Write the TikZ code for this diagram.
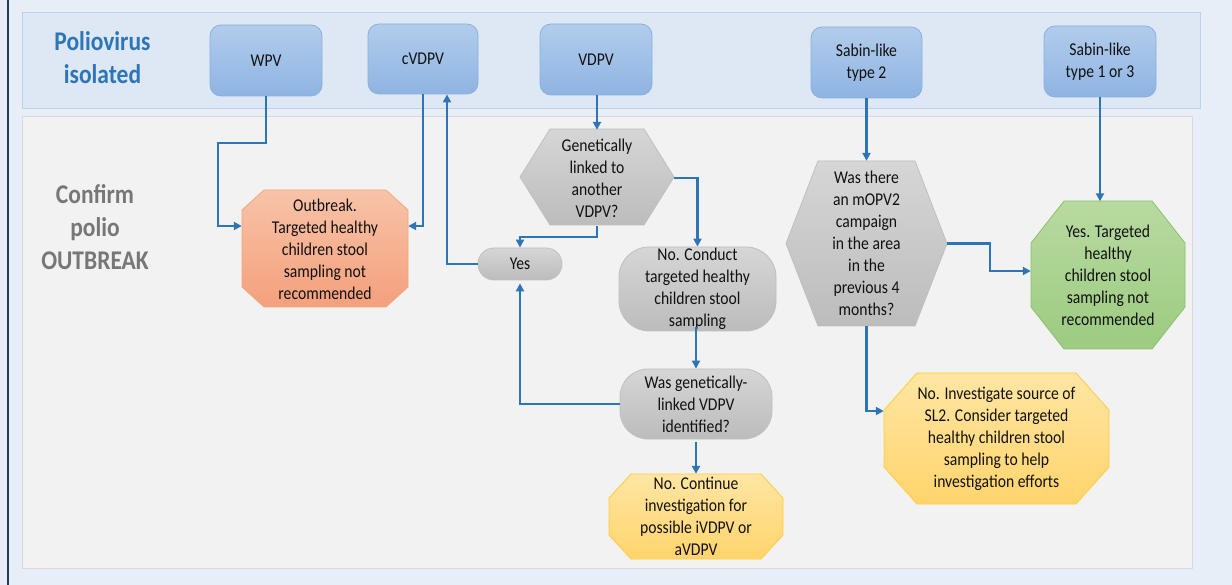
\documentclass[tikz,border=0pt]{standalone}
\usepackage{fontspec}
\setmainfont{Carlito}[FakeStretch=0.87]
\usetikzlibrary{arrows.meta}
\definecolor{bgblue}{HTML}{E7EEF8}
\definecolor{bandfill}{HTML}{DDE8F4}
\definecolor{bandline}{HTML}{BDD1EB}
\definecolor{panelfill}{HTML}{F2F2F2}
\definecolor{panelline}{HTML}{D9D9D9}
\definecolor{navy}{HTML}{1F3864}
\definecolor{connblue}{HTML}{2E75B6}
\definecolor{titleblue}{HTML}{2E75B6}
\definecolor{titlegray}{HTML}{777777}
\definecolor{blueTop}{HTML}{B2CCEB}
\definecolor{blueBot}{HTML}{8EB4E3}
\definecolor{blueLine}{HTML}{8AB0DE}
\definecolor{grayTop}{HTML}{D6D6D6}
\definecolor{grayBot}{HTML}{BCBCBC}
\definecolor{grayLine}{HTML}{BFBFBF}
\definecolor{orTop}{HTML}{F8C3A8}
\definecolor{orBot}{HTML}{F4A07C}
\definecolor{orLine}{HTML}{F4A57F}
\definecolor{grTop}{HTML}{B8DAA1}
\definecolor{grBot}{HTML}{9CCB80}
\definecolor{grLine}{HTML}{8DC16C}
\definecolor{yeTop}{HTML}{FFE6A3}
\definecolor{yeBot}{HTML}{FFD46C}
\definecolor{yeLine}{HTML}{FFCC40}
\definecolor{txtcol}{HTML}{111111}
\newcommand\myBody{\fontsize{18}{22}\selectfont}
\newcommand\myHead{\fontsize{27}{33}\selectfont\bfseries}
% #1 style, #2 cx, #3 cy, #4 half w, #5 half h, #6 cut x, #7 cut y
\newcommand\myOcta[7]{%
  \path[#1] (#2-#4+#6,#3-#5) -- (#2+#4-#6,#3-#5) -- (#2+#4,#3-#5+#7) -- (#2+#4,#3+#5-#7)
    -- (#2+#4-#6,#3+#5) -- (#2-#4+#6,#3+#5) -- (#2-#4,#3+#5-#7) -- (#2-#4,#3-#5+#7) -- cycle;}
% #1 style, #2 cx, #3 cy, #4 half w, #5 half h, #6 point depth
\newcommand\myHexa[6]{%
  \path[#1] (#2-#4+#6,#3-#5) -- (#2+#4-#6,#3-#5) -- (#2+#4,#3) -- (#2+#4-#6,#3+#5)
    -- (#2-#4+#6,#3+#5) -- (#2-#4,#3) -- cycle;}
\tikzset{
  conn/.style={draw=connblue, line width=2.1pt, -{Triangle[length=8pt,width=8pt]}},
  bluebox/.style={rounded corners=11pt, top color=blueTop, bottom color=blueBot, draw=blueLine,
    line width=0.8pt, inner sep=0pt, align=center, font=\myBody, text=txtcol},
  graybox/.style={top color=grayTop, bottom color=grayBot, draw=grayLine, line width=0.8pt,
    inner sep=0pt, align=center, font=\myBody, text=txtcol},
  grayfill/.style={top color=grayTop, bottom color=grayBot, draw=grayLine, line width=0.8pt},
  orfill/.style={top color=orTop, bottom color=orBot, draw=orLine, line width=0.8pt},
  grfill/.style={top color=grTop, bottom color=grBot, draw=grLine, line width=0.8pt},
  yefill/.style={top color=yeTop, bottom color=yeBot, draw=yeLine, line width=0.8pt},
  txt/.style={inner sep=0pt, align=center, font=\myBody, text=txtcol},
  headtxt/.style={inner sep=0pt, align=center, font=\myHead},
}
\begin{document}
\begin{tikzpicture}[x=1pt,y=-1pt]
\useasboundingbox (0,0) rectangle (1232,585);
\fill[bgblue] (0,0) rectangle (1232,585);
\draw[navy, line width=2.6pt] (7.8,0) -- (7.8,585);
% bands
\draw[fill=bandfill, draw=bandline, line width=0.8pt] (22,12) rectangle (1200,108);
\draw[fill=panelfill, draw=panelline, line width=1pt] (22.5,117) rectangle (1192,568);
% row titles
\node[headtxt, text=titleblue] (hdrA) at (102.5,57.5) {Poliovirus\\isolated};
\node[headtxt, text=titlegray] (hdrB) at (95,227) {Confirm\\polio\\OUTBREAK};
% top boxes
\node[bluebox, minimum width=112pt, minimum height=71pt] (wpv) at (266,60.5) {WPV};
\node[bluebox, minimum width=110pt, minimum height=70pt] (cvdpv) at (423,59) {cVDPV};
\node[bluebox, minimum width=112pt, minimum height=71pt] (vdpv) at (596,59.5) {VDPV};
\node[bluebox, minimum width=111pt, minimum height=71pt] (sab2) at (866.5,62.5) {Sabin-like\\type 2};
\node[bluebox, minimum width=112pt, minimum height=71pt] (sab13) at (1100,61.5) {Sabin-like\\type 1 or 3};
% outbreak octagon
\myOcta{orfill}{325}{248.5}{83}{58.5}{22}{20}
\node[txt, minimum width=166pt, minimum height=117pt] (outbreak) at (325,249.5)
  {Outbreak.\\Targeted healthy\\children stool\\sampling not\\recommended};
% genetically linked hexagon
\myHexa{grayfill}{597}{177}{77}{48}{30}
\node[txt, minimum width=154pt, minimum height=96pt] (genlink) at (597,178)
  {Genetically\\linked to\\another\\VDPV?};
% yes
\node[graybox, rounded corners=16pt, minimum width=84pt, minimum height=32pt] (yes) at (520,264) {Yes};
% conduct
\node[graybox, rounded corners=30pt, minimum width=157pt, minimum height=84pt] (conduct) at (697.5,289)
  {No. Conduct\\targeted healthy\\children stool\\sampling};
% was genetically linked
\node[graybox, rounded corners=28pt, minimum width=152pt, minimum height=70pt] (wasgen) at (696,404)
  {Was genetically-\\linked VDPV\\identified?};
% continue octagon
\myOcta{yefill}{696}{516.5}{87}{42.5}{22}{24}
\node[txt, minimum width=174pt, minimum height=85pt] (cont) at (696,516.5)
  {No. Continue\\investigation for\\possible iVDPV or\\aVDPV};
% mOPV2 hexagon
\myHexa{grayfill}{866.5}{243.5}{80.5}{82.5}{32}
\node[txt, minimum width=161pt, minimum height=165pt] (mopv) at (866.5,243.5)
  {Was there\\an mOPV2\\campaign\\in the area\\in the\\previous 4\\months?};
% green octagon
\myOcta{grfill}{1108}{275}{77}{74}{33}{42}
\node[txt, minimum width=154pt, minimum height=148pt] (green) at (1108,275.5)
  {Yes. Targeted\\healthy\\children stool\\sampling not\\recommended};
% investigate octagon
\myOcta{yefill}{996.5}{438.5}{112.5}{65.5}{33}{37}
\node[txt, minimum width=225pt, minimum height=131pt] (inv) at (996.5,438.5)
  {No. Investigate source of\\SL2. Consider targeted\\healthy children stool\\sampling to help\\investigation efforts};
% connectors
\draw[conn] (wpv.south) -- (266,143) -| (218,226) -- (outbreak.west |- 0,226);
\draw[conn] (cvdpv.south) -- (cvdpv.south |- 0,226) -- (outbreak.east |- 0,226);
\draw[conn] (yes.west) -- (447,264) -- (cvdpv.south -| 447,0);
\draw[conn] (vdpv.south -| genlink.north) -- (genlink.north);
\draw[conn] (genlink.south) -- (597,237) -| (yes.north);
\draw[conn] (genlink.east) -| (conduct.north);
\draw[conn] ([yshift=4pt]conduct.south -| 696,0) -- (wasgen.north -| 696,0);
\draw[conn, shorten >=3pt] (wasgen.west) -| (yes.south);
\draw[conn, shorten <=3pt] (wasgen.south) -- (cont.north);
\draw[conn] (sab2.south) -- (mopv.north);
\draw[conn] (mopv.east) -| (990,271) -- (green.west |- 0,271);
\draw[conn] (mopv.south) |- (inv.west |- 0,411);
\draw[conn] (sab13.south) -- (sab13.south |- green.north);
\end{tikzpicture}
\end{document}
